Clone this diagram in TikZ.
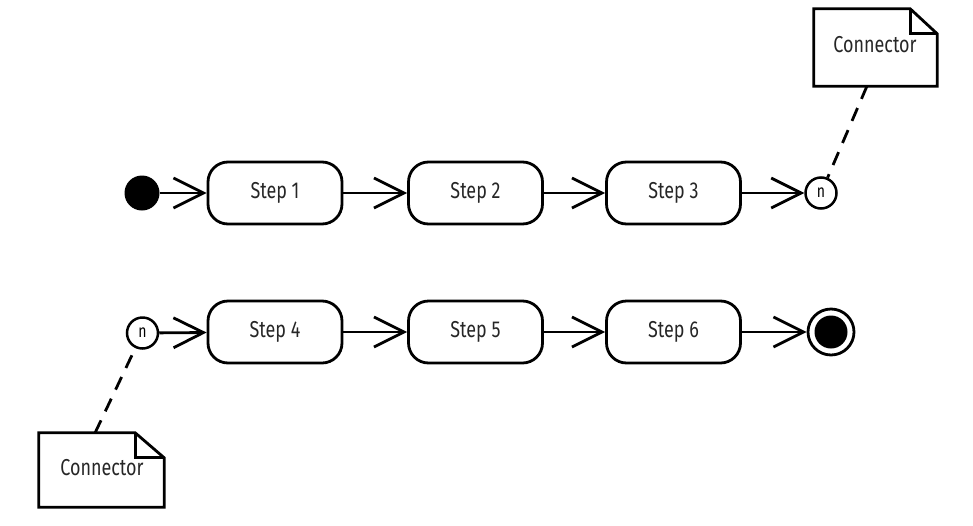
\documentclass[tikz,border=0pt]{standalone}
\usepackage{fontspec}
\setsansfont{Fira Sans}[FakeStretch=0.78]
\usetikzlibrary{arrows.meta}
\begin{document}
\begin{tikzpicture}[x=1pt,y=-1pt,
  stepbox/.style={draw, line width=2.8pt, rounded corners=20pt, minimum width=134pt, minimum height=62pt, inner sep=0pt, font=\sffamily\fontsize{23}{26}\selectfont, text=black!85},
  conn/.style={draw, circle, line width=2.5pt, minimum size=31pt, inner sep=0pt, font=\sffamily\fontsize{18}{20}\selectfont},
  flow/.style={draw, line width=2.8pt, -{Straight Barb[length=30pt,width=30pt]}},
  notebox/.style={inner sep=0pt, font=\sffamily\fontsize{23}{26}\selectfont, text=black!85},
  noteline/.style={line width=2.8pt, line join=miter},
  dashline/.style={line width=2.8pt, dash pattern=on 14pt off 10pt}
]
\useasboundingbox (0,0) rectangle (973,525);

% row 1
\node[circle, fill, minimum size=35pt, inner sep=0pt] (init) at (142,193) {};
\node[stepbox] (s1) at (275,193) {Step 1};
\node[stepbox] (s2) at (475.5,193) {Step 2};
\node[stepbox] (s3) at (673.5,193) {Step 3};
\node[conn] (n1) at (821,193) {n};
\draw[flow] (init) -- (s1);
\draw[flow] (s1) -- (s2);
\draw[flow] (s2) -- (s3);
\draw[flow] (s3) -- (n1);

% row 2
\node[conn] (n2) at (142.5,333) {n};
\node[stepbox] (s4) at (275,332) {Step 4};
\node[stepbox] (s5) at (475.5,332) {Step 5};
\node[stepbox] (s6) at (673.5,332) {Step 6};
\node[circle, draw, line width=2.8pt, minimum size=46pt, inner sep=0pt] (final) at (831,332) {};
\fill (final.center) circle (16.5pt);
\draw[flow] (n2) -- (s4);
\draw[flow] (s4) -- (s5);
\draw[flow] (s5) -- (s6);
\draw[flow] (s6) -- (final);

% top note
\node[notebox, minimum width=123pt, minimum height=77pt] (note1) at (875.5,47.5) {};
\node[notebox] (note1t) at (875,45) {Connector};
\draw[noteline] (note1.north west) -- ([xshift=-27pt]note1.north east) -- ([yshift=-25pt]note1.north east) -- (note1.south east) -- (note1.south west) -- cycle;
\draw[noteline] ([xshift=-27pt]note1.north east) -- ([xshift=-27pt,yshift=-25pt]note1.north east) -- ([yshift=-25pt]note1.north east);
\coordinate (t1) at (867,86);
\draw[dashline] (t1) -- (n1);

% bottom note
\node[notebox, minimum width=125pt, minimum height=74pt] (note2) at (101.5,470) {};
\node[notebox] (note2t) at (102,468) {Connector};
\draw[noteline] (note2.north west) -- ([xshift=-29pt]note2.north east) -- ([yshift=-25pt]note2.north east) -- (note2.south east) -- (note2.south west) -- cycle;
\draw[noteline] ([xshift=-29pt]note2.north east) -- ([xshift=-29pt,yshift=-25pt]note2.north east) -- ([yshift=-25pt]note2.north east);
\coordinate (t2) at (95,433);
\draw[dashline] (t2) -- (n2);
\end{tikzpicture}
\end{document}
